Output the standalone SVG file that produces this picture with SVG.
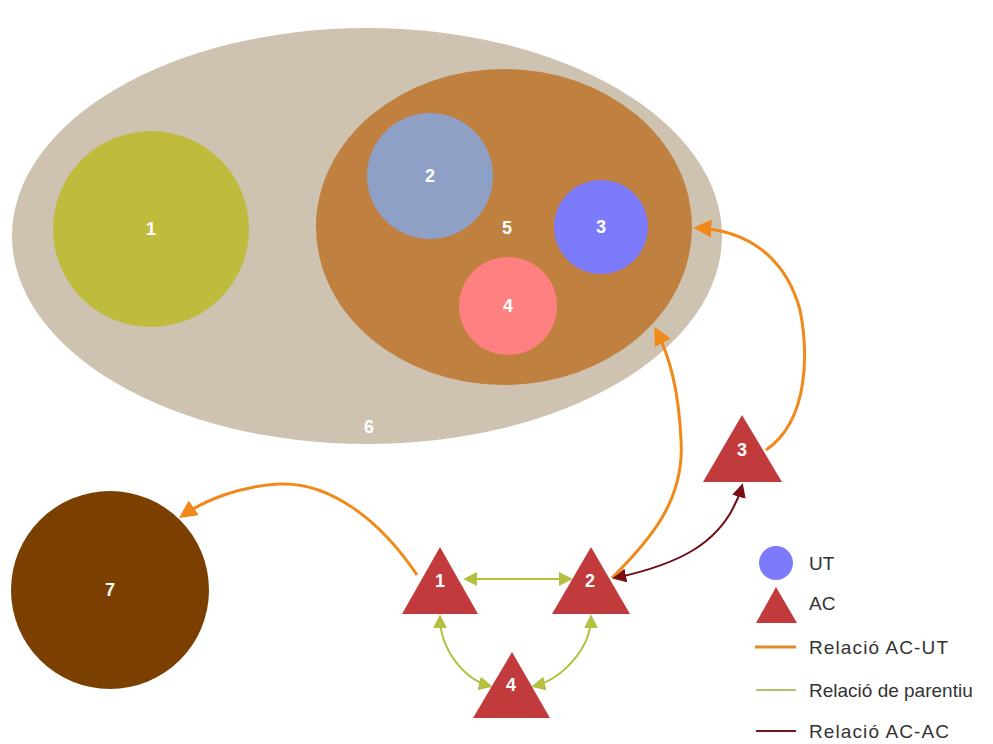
<svg xmlns="http://www.w3.org/2000/svg" width="993" height="744" viewBox="0 0 993 744">
<defs>
<style>
.lbl{font-family:"Liberation Sans",Arial,sans-serif;font-size:18px;font-weight:bold;fill:#ffffff;text-anchor:middle}
.leg{font-family:"Liberation Sans",Arial,sans-serif;font-size:19px;fill:#333333}
.tri{fill:#C13B3C}
.orange{fill:none;stroke:#F0891A;stroke-width:3}
.green{fill:none;stroke:#B3C040;stroke-width:2}
.dred{fill:none;stroke:#6E0E14;stroke-width:2}
</style>
<marker id="aO" viewBox="0 0 10 10" refX="8" refY="5" markerWidth="6" markerHeight="6" orient="auto-start-reverse" markerUnits="strokeWidth"><path d="M0,0 L10,5 L0,10 z" fill="#F0891A"/></marker>
<marker id="aG" viewBox="0 0 10 10" refX="8" refY="5" markerWidth="7" markerHeight="7" orient="auto-start-reverse" markerUnits="strokeWidth"><path d="M0,0 L10,5 L0,10 z" fill="#B3C040"/></marker>
<marker id="aR" viewBox="0 0 10 10" refX="8" refY="5" markerWidth="7" markerHeight="7" orient="auto-start-reverse" markerUnits="strokeWidth"><path d="M0,0 L10,5 L0,10 z" fill="#7A0E14"/></marker>
</defs>
<rect width="993" height="744" fill="#ffffff"/>
<g id="n6"><ellipse cx="367" cy="236" rx="355" ry="208" fill="#CEC2B1"/><text class="lbl" x="369" y="433">6</text></g>
<g id="n5"><ellipse cx="504" cy="227" rx="188" ry="158" fill="#C0803F"/><text class="lbl" x="507" y="234">5</text></g>
<g id="n1"><circle cx="151" cy="229" r="98" fill="#BFBB3C"/><text class="lbl" x="151" y="235">1</text></g>
<g id="n2"><circle cx="430" cy="176" r="63" fill="#8FA0C6"/><text class="lbl" x="430" y="182">2</text></g>
<g id="n3"><circle cx="601" cy="227" r="47" fill="#7B7BFC"/><text class="lbl" x="601" y="233">3</text></g>
<g id="n4"><circle cx="508" cy="306" r="49" fill="#FF8080"/><text class="lbl" x="508" y="312">4</text></g>
<g id="n7"><circle cx="110" cy="590" r="99" fill="#7B3F00"/><text class="lbl" x="110" y="596">7</text></g>
<g id="connectors">
<path class="orange" d="M417,575 C380,520 330,482 280,484 C240,486 205,500 182,516" marker-end="url(#aO)"/>
<path class="orange" d="M612,578 C650,540 685,500 681,440 C679,395 672,360 656,330" marker-end="url(#aO)"/>
<path class="orange" d="M766,450 C810,420 808,350 800,310 C785,255 745,230 697,228" marker-end="url(#aO)"/>
<path class="dred" d="M615,578 C675,565 725,545 742,486" marker-start="url(#aR)" marker-end="url(#aR)"/>
<path class="green" d="M466,579 L570,579" marker-start="url(#aG)" marker-end="url(#aG)"/>
<path class="green" d="M440,617 C440,650 465,680 490,686" marker-start="url(#aG)" marker-end="url(#aG)"/>
<path class="green" d="M591,617 C591,650 560,680 534,686" marker-start="url(#aG)" marker-end="url(#aG)"/>
</g>
<g id="t1"><polygon class="tri" points="440,547 402,614 478,614"/><text class="lbl" x="440" y="587">1</text></g>
<g id="t2"><polygon class="tri" points="591,547 552,614 630,614"/><text class="lbl" x="590" y="587">2</text></g>
<g id="t3"><polygon class="tri" points="742,415 703,482 782,482"/><text class="lbl" x="742" y="456">3</text></g>
<g id="t4"><polygon class="tri" points="512,652 473,718 550,718"/><text class="lbl" x="511" y="691">4</text></g>
<g id="legend">
<circle cx="776" cy="563" r="17" fill="#7B7BFC"/>
<text class="leg" x="809" y="570">UT</text>
<polygon class="tri" points="776,587 756,623 797,623"/>
<text class="leg" x="809" y="610">AC</text>
<line x1="755" y1="647" x2="796" y2="647" stroke="#E08A2A" stroke-width="3"/>
<text class="leg" x="809" y="654" textLength="139">Relació AC-UT</text>
<line x1="756" y1="690" x2="796" y2="690" stroke="#B8C070" stroke-width="2"/>
<text class="leg" x="809" y="697">Relació de parentiu</text>
<line x1="756" y1="731" x2="796" y2="731" stroke="#6E1A1A" stroke-width="2"/>
<text class="leg" x="809" y="738" textLength="140">Relació AC-AC</text>
</g>
</svg>
